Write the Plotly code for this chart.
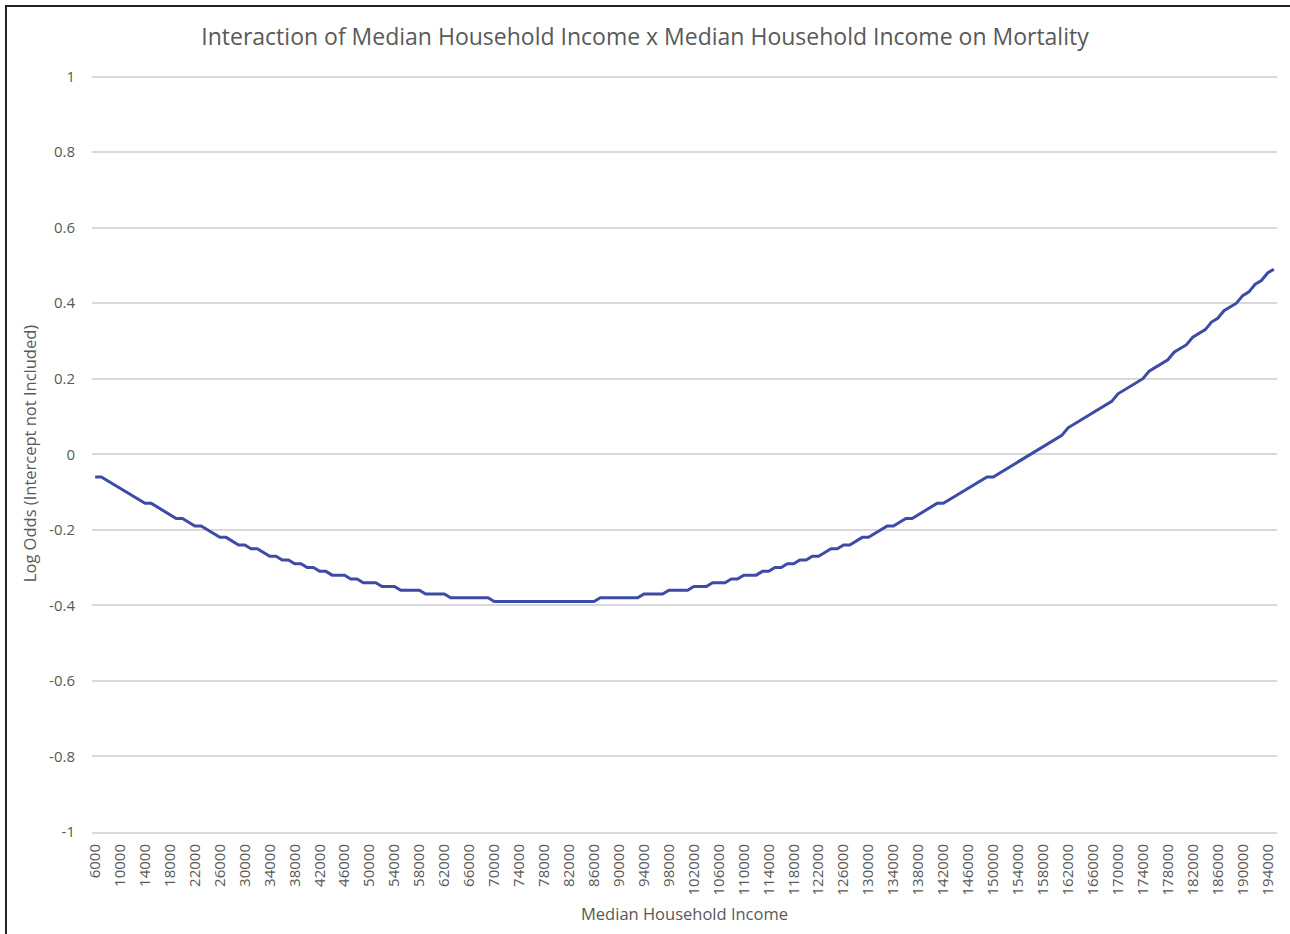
import plotly.graph_objects as go

# Categories: median household income, 6000 .. 195000 in steps of 1000
income = [str(v) for v in range(6000, 196000, 1000)]

# Log odds (6000 .. 77000)
log_odds_left = [
    -0.06, -0.06, -0.07, -0.08, -0.09, -0.10, -0.11, -0.12, -0.13, -0.13,
    -0.14, -0.15, -0.16, -0.17, -0.17, -0.18, -0.19, -0.19, -0.20, -0.21,
    -0.22, -0.22, -0.23, -0.24, -0.24, -0.25, -0.25, -0.26, -0.27, -0.27,
    -0.28, -0.28, -0.29, -0.29, -0.30, -0.30, -0.31, -0.31, -0.32, -0.32,
    -0.32, -0.33, -0.33, -0.34, -0.34, -0.34, -0.35, -0.35, -0.35, -0.36,
    -0.36, -0.36, -0.36, -0.37, -0.37, -0.37, -0.37, -0.38, -0.38, -0.38,
    -0.38, -0.38, -0.38, -0.38, -0.39, -0.39, -0.39, -0.39, -0.39, -0.39,
    -0.39, -0.39,
]
# 78000
log_odds_min = [-0.39]
# 79000 .. 195000
log_odds_right = [
    -0.39, -0.39, -0.39, -0.39, -0.39, -0.39, -0.39, -0.39, -0.38, -0.38,
    -0.38, -0.38, -0.38, -0.38, -0.38, -0.37, -0.37, -0.37, -0.37, -0.36,
    -0.36, -0.36, -0.36, -0.35, -0.35, -0.35, -0.34, -0.34, -0.34, -0.33,
    -0.33, -0.32, -0.32, -0.32, -0.31, -0.31, -0.30, -0.30, -0.29, -0.29,
    -0.28, -0.28, -0.27, -0.27, -0.26, -0.25, -0.25, -0.24, -0.24, -0.23,
    -0.22, -0.22, -0.21, -0.20, -0.19, -0.19, -0.18, -0.17, -0.17, -0.16,
    -0.15, -0.14, -0.13, -0.13, -0.12, -0.11, -0.10, -0.09, -0.08, -0.07,
    -0.06, -0.06, -0.05, -0.04, -0.03, -0.02, -0.01, 0.00, 0.01, 0.02,
    0.03, 0.04, 0.05, 0.07, 0.08, 0.09, 0.10, 0.11, 0.12, 0.13,
    0.14, 0.16, 0.17, 0.18, 0.19, 0.20, 0.22, 0.23, 0.24, 0.25,
    0.27, 0.28, 0.29, 0.31, 0.32, 0.33, 0.35, 0.36, 0.38, 0.39,
    0.40, 0.42, 0.43, 0.45, 0.46, 0.48, 0.49,
]
log_odds = log_odds_left + log_odds_min + log_odds_right

x_tick_labels = [str(v) for v in range(6000, 196000, 4000)]
y_tick_vals = [1, 0.8, 0.6, 0.4, 0.2, 0, -0.2, -0.4, -0.6, -0.8, -1]
y_tick_text = ["1", "0.8", "0.6", "0.4", "0.2", "0", "-0.2", "-0.4", "-0.6", "-0.8", "-1"]

TEXT = "#595959"
FONT = "Open Sans"

fig = go.Figure()
fig.add_trace(go.Scatter(
    x=income, y=log_odds, mode="lines",
    line=dict(color="#3d4ba6", width=3),
    showlegend=False, hoverinfo="x+y",
))

W, H = 1290, 934
L, R, T, B = 92, 13, 75, 102
pw, ph = W - L - R, H - T - B
Y_TOP = 1.004

def px_x(p):
    return (p - L) / pw

def px_y(p):
    return (H - B - p) / ph

fig.update_layout(
    width=W, height=H,
    margin=dict(l=L, r=R, t=T, b=B, pad=0),
    paper_bgcolor="white", plot_bgcolor="white",
    font=dict(family=FONT, color=TEXT, size=15),
    title=dict(
        text="Interaction of Median Household Income x Median Household Income on Mortality",
        x=645 / W, xref="container", xanchor="center",
        y=1 - 37 / H, yref="container", yanchor="middle",
        font=dict(family=FONT, size=23, color=TEXT),
    ),
    xaxis=dict(
        type="category",
        tickmode="array", tickvals=x_tick_labels, ticktext=x_tick_labels,
        tickangle=-90, showgrid=False, ticks="",
        ticklabelstandoff=4,
        showline=True, linecolor="#d9d9d9", linewidth=2,
        tickfont=dict(family=FONT, size=15, color=TEXT),
        title=dict(text="Median Household Income", standoff=14,
                   font=dict(family=FONT, size=16.5, color=TEXT)),
        range=[-0.5, len(income) - 0.5],
        fixedrange=True,
    ),
    yaxis=dict(
        range=[-1, Y_TOP],
        tickmode="array", tickvals=y_tick_vals, ticktext=y_tick_text,
        showgrid=True, gridcolor="#d9d9d9", gridwidth=2,
        zeroline=False, showline=False, ticks="",
        ticklabelstandoff=16,
        tickfont=dict(family=FONT, size=15, color=TEXT),
        title=dict(text="Log Odds (Intercept not Included)", standoff=8,
                   font=dict(family=FONT, size=16.5, color=TEXT)),
        fixedrange=True,
    ),
    shapes=[
        dict(type="line", xref="paper", yref="paper",
             x0=px_x(5), x1=px_x(1290), y0=px_y(6), y1=px_y(6),
             line=dict(color="#222222", width=2)),
        dict(type="line", xref="paper", yref="paper",
             x0=px_x(6), x1=px_x(6), y0=px_y(5), y1=px_y(934),
             line=dict(color="#222222", width=2)),
    ],
)

fig.write_html(
    "out.html",
    config={"displayModeBar": False},
    post_script="document.body.style.margin='0';document.body.style.overflow='hidden';",
)
